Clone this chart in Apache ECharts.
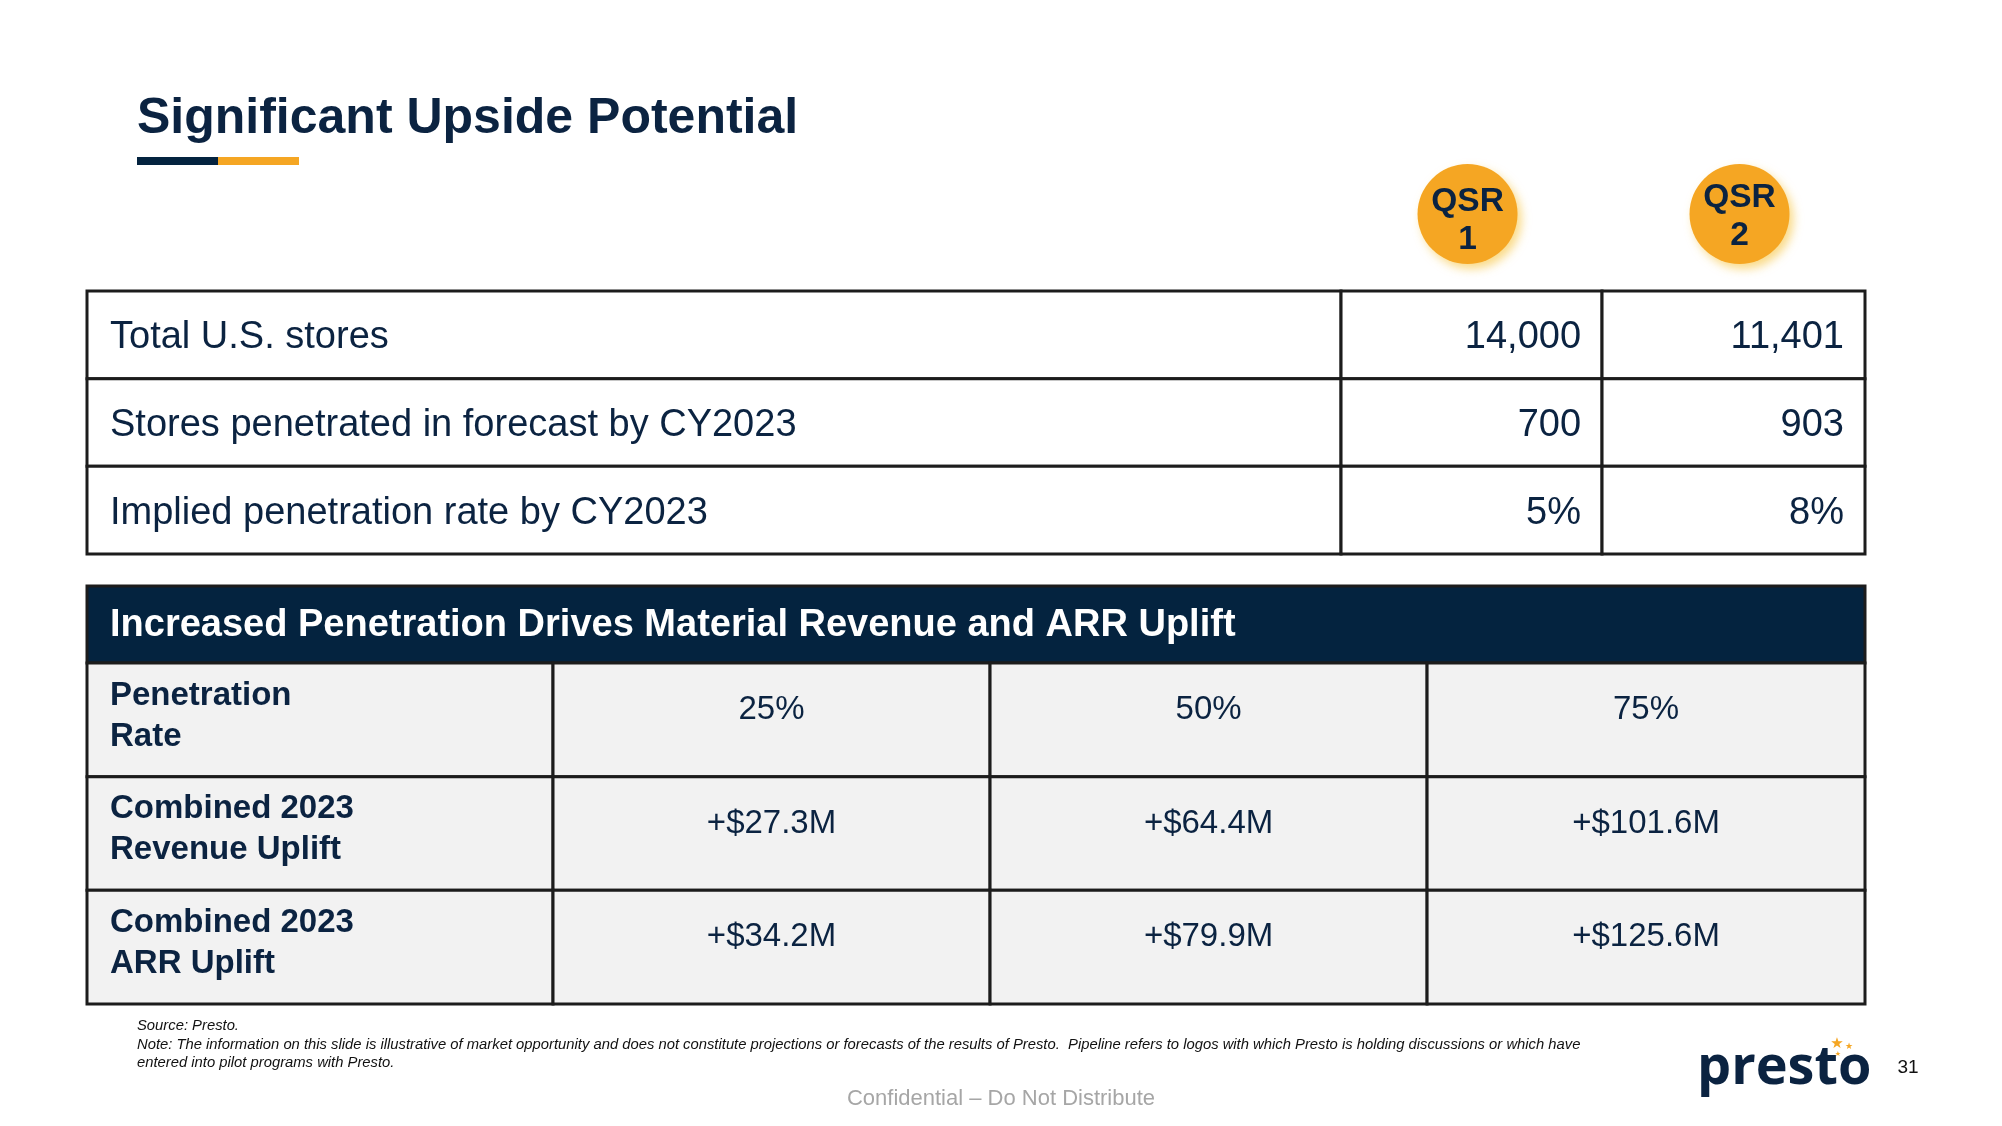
<!DOCTYPE html>
<html>
<head>
<meta charset="utf-8">
<script src="https://cdn.jsdelivr.net/npm/echarts@6/dist/echarts.min.js"></script>
<style>
  html, body { margin: 0; padding: 0; background: #ffffff; }
  #chart { width: 2002px; height: 1126px; }
</style>
</head>
<body>
<div id="chart"></div>
<script>
// ---------------- DATA ----------------
const slideTitle = 'Significant Upside Potential';
const qsrHeaders = ['QSR\n1', 'QSR\n2'];
const storeMetrics = ['Total U.S. stores', 'Stores penetrated in forecast by CY2023', 'Implied penetration rate by CY2023'];
const metricKinds = ['count', 'count', 'percent'];
const qsr1Values = [14000, 700, 5];
const qsr2Values = [11401, 903, 8];

const upliftTitle = 'Increased Penetration Drives Material Revenue and ARR Uplift';
const upliftRows = ['Penetration\nRate', 'Combined 2023\nRevenue Uplift', 'Combined 2023\nARR Uplift'];
const penetrationRates = [25, 50, 75];          // %
const revenueUplift = [27.3, 64.4, 101.6];      // $M
const arrUplift = [34.2, 79.9, 125.6];          // $M

const sourceNote = 'Source: Presto.\nNote: The information on this slide is illustrative of market opportunity and does not constitute projections or forecasts of the results of Presto.  Pipeline refers to logos with which Presto is holding discussions or which have\nentered into pilot programs with Presto.';
const footerText = 'Confidential \u2013 Do Not Distribute';
const pageNumber = '31';
const logoText = 'presto';

// ---------------- STYLE / LAYOUT ----------------
const FONT = '"Liberation Sans", Arial, Helvetica, sans-serif';
const TEXT = '#0b2341';
const NAVY = '#04233f';
const ORANGE = '#f5a623';
const LINE = '#1c1c1c';
const T1_EDGES = [0, 0.7053, 0.8521, 1];
const T2_EDGES = [0, 0.2621, 0.5079, 0.7537, 1];

function fmtMetric(v, kind) {
  return kind === 'percent' ? v + '%' : v.toLocaleString('en-US');
}
function fmtMoney(v) { return '+$' + v.toFixed(1) + 'M'; }

const upliftMatrix = [
  penetrationRates.map(v => v + '%'),
  revenueUplift.map(fmtMoney),
  arrUplift.map(fmtMoney)
];

function renderTable1(params, api) {
  const i = api.value(1);
  const yc = api.coord([0, i])[1];
  const h = api.size([0, 1])[1];
  const y0 = yc - h / 2;
  const xs = T1_EDGES.map(f => api.coord([f, i])[0]);
  const children = [];
  for (let c = 0; c < 3; c++) {
    children.push({ type: 'rect', shape: { x: xs[c], y: y0, width: xs[c + 1] - xs[c], height: h },
      style: { fill: '#ffffff', stroke: LINE, lineWidth: 3 } });
  }
  children.push({ type: 'text', style: { text: storeMetrics[i], x: xs[0] + 23, y: yc + 3,
    align: 'left', verticalAlign: 'middle', fontSize: 38, fontFamily: FONT, fill: TEXT } });
  const vals = [qsr1Values[i], qsr2Values[i]];
  for (let c = 0; c < 2; c++) {
    children.push({ type: 'text', style: { text: fmtMetric(vals[c], metricKinds[i]), x: xs[c + 2] - 21, y: yc + 3,
      align: 'right', verticalAlign: 'middle', fontSize: 38, fontFamily: FONT, fill: TEXT } });
  }
  if (i === 0) {
    const dx = [-4, 6];
    const dy = [0, -4];
    for (let c = 0; c < 2; c++) {
      const cx = (xs[c + 1] + xs[c + 2]) / 2 + dx[c];
      const cy = y0 - 77;
      children.push({ type: 'circle', shape: { cx: cx, cy: cy, r: 50 },
        style: { fill: ORANGE, shadowBlur: 10, shadowOffsetX: 4, shadowOffsetY: 5, shadowColor: 'rgba(245,190,40,0.55)' } });
      children.push({ type: 'text', style: { text: qsrHeaders[c], x: cx, y: cy + 7 + dy[c], align: 'center', verticalAlign: 'middle',
        fontSize: 33.5, fontWeight: 'bold', lineHeight: 38, fontFamily: FONT, fill: TEXT } });
    }
  }
  return { type: 'group', children: children };
}

function renderTable2(params, api) {
  const i = api.value(1);
  const yc = api.coord([0, i])[1];
  const h = api.size([0, 1])[1];
  const y0 = yc - h / 2;
  const xs = T2_EDGES.map(f => api.coord([f, i])[0]);
  const children = [];
  if (i === 0) {
    children.push({ type: 'rect', shape: { x: xs[0], y: y0 - 77, width: xs[4] - xs[0], height: 77 },
      style: { fill: NAVY, stroke: LINE, lineWidth: 3 } });
    children.push({ type: 'text', style: { text: upliftTitle, x: xs[0] + 23, y: y0 - 37,
      align: 'left', verticalAlign: 'middle', fontSize: 38, fontWeight: 'bold', fontFamily: FONT, fill: '#ffffff' } });
  }
  for (let c = 0; c < 4; c++) {
    children.push({ type: 'rect', shape: { x: xs[c], y: y0, width: xs[c + 1] - xs[c], height: h },
      style: { fill: '#f2f2f2', stroke: LINE, lineWidth: 3 } });
  }
  children.push({ type: 'text', style: { text: upliftRows[i], x: xs[0] + 23, y: y0 + 12,
    align: 'left', verticalAlign: 'top', lineHeight: 41, fontSize: 33, fontWeight: 'bold', fontFamily: FONT, fill: TEXT } });
  for (let c = 0; c < 3; c++) {
    children.push({ type: 'text', style: { text: upliftMatrix[i][c], x: (xs[c + 1] + xs[c + 2]) / 2, y: y0 + 47,
      align: 'center', verticalAlign: 'middle', fontSize: 33, fontFamily: FONT, fill: TEXT } });
  }
  return { type: 'group', children: children };
}

const chart = echarts.init(document.getElementById('chart'), null, { renderer: 'canvas' });
chart.setOption({
  animation: false,
  backgroundColor: '#ffffff',
  grid: [
    { left: 87, top: 291, width: 1778, height: 263 },
    { left: 87, top: 663, width: 1778, height: 341 }
  ],
  xAxis: [
    { type: 'value', gridIndex: 0, min: 0, max: 1, show: false },
    { type: 'value', gridIndex: 1, min: 0, max: 1, show: false }
  ],
  yAxis: [
    { type: 'category', gridIndex: 0, inverse: true, data: storeMetrics, show: false },
    { type: 'category', gridIndex: 1, inverse: true, data: upliftRows, show: false }
  ],
  series: [
    { type: 'custom', xAxisIndex: 0, yAxisIndex: 0, renderItem: renderTable1,
      data: storeMetrics.map((_, i) => [0, i]), silent: true },
    { type: 'custom', xAxisIndex: 1, yAxisIndex: 1, renderItem: renderTable2,
      data: upliftRows.map((_, i) => [0, i]), silent: true }
  ],
  graphic: [
    { type: 'text', left: 137, top: 94, style: { text: slideTitle, fontSize: 50, fontWeight: 'bold', fontFamily: FONT, fill: TEXT } },
    { type: 'rect', shape: { x: 137, y: 157, width: 81, height: 8 }, style: { fill: NAVY } },
    { type: 'rect', shape: { x: 218, y: 157, width: 81, height: 8 }, style: { fill: ORANGE } },
    { type: 'text', x: 137, y: 1017, style: { text: sourceNote, fontSize: 14.8, fontStyle: 'italic', lineHeight: 18.5,
      fontFamily: FONT, fill: '#111111', verticalAlign: 'top' } },
    { type: 'text', x: 1001, y: 1099, style: { text: footerText, fontSize: 22, fontFamily: FONT, fill: '#a6a6a6', align: 'center', verticalAlign: 'middle' } },
    { type: 'text', x: 1697, y: 1069, style: { text: logoText, fontSize: 54, fontWeight: 'bold', fontFamily: '"Open Sans", Lato, sans-serif', fill: '#0b2341', verticalAlign: 'middle' } },
    { type: 'text', x: 1837, y: 1044, style: { text: '\u2605', fontSize: 15, fontFamily: '"DejaVu Sans"', fill: ORANGE, align: 'center', verticalAlign: 'middle' } },
    { type: 'text', x: 1849, y: 1047, style: { text: '\u2605', fontSize: 9, fontFamily: '"DejaVu Sans"', fill: ORANGE, align: 'center', verticalAlign: 'middle' } },
    { type: 'text', x: 1838, y: 1054, style: { text: '\u2605', fontSize: 7, fontFamily: '"DejaVu Sans"', fill: ORANGE, align: 'center', verticalAlign: 'middle' } },
    { type: 'text', x: 1908, y: 1068, style: { text: pageNumber, fontSize: 19, fontFamily: FONT, fill: '#111111', align: 'center', verticalAlign: 'middle' } }
  ]
});
</script>
</body>
</html>
